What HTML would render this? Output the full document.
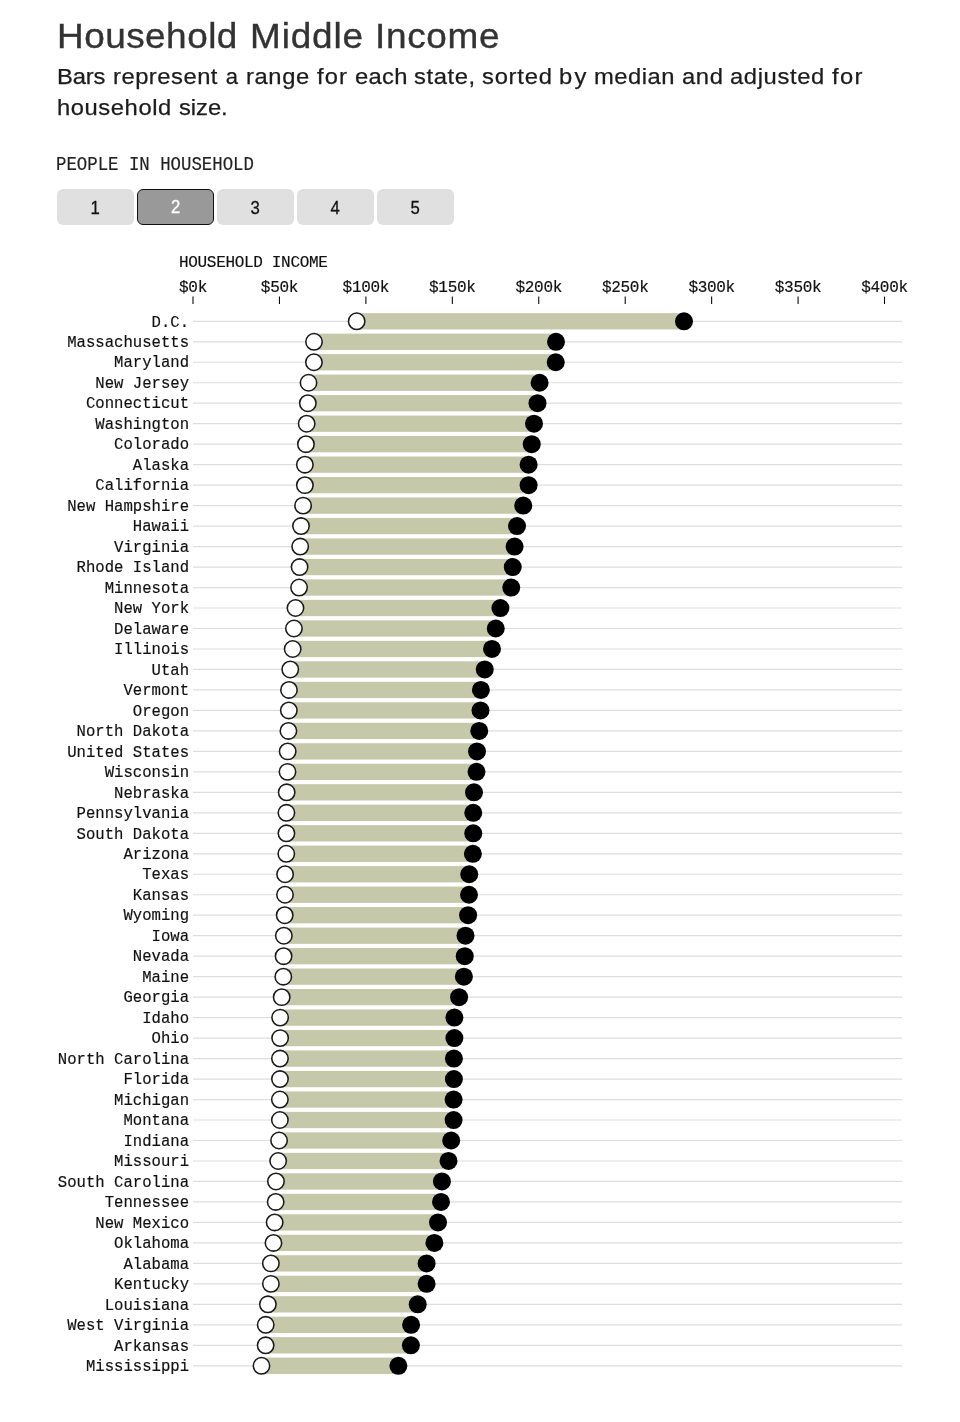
<!DOCTYPE html>
<html><head><meta charset="utf-8"><title>Household Middle Income</title>
<style>
html,body{margin:0;padding:0;background:#fff;}
body{width:960px;height:1422px;position:relative;overflow:hidden;font-family:"Liberation Sans",sans-serif;}
.title{position:absolute;-webkit-text-stroke:0.35px #333;font-size:34.2px;line-height:44px;color:#333;white-space:nowrap;transform-origin:0 0;}
.sub{position:absolute;-webkit-text-stroke:0.25px #1c1c1c;font-size:22px;line-height:30.5px;color:#1c1c1c;white-space:nowrap;transform-origin:0 0;}
.m{font-family:"Liberation Mono",monospace;fill:#111;stroke:#111;stroke-width:0.18px;}
.plabel{position:absolute;left:56px;top:151.7px;-webkit-text-stroke:0.18px #222;font-family:"Liberation Mono",monospace;font-size:19.6px;line-height:26px;color:#222;white-space:nowrap;transform-origin:0 50%;transform:scaleX(0.886);}
.btn{position:absolute;top:189px;width:76.5px;height:36px;border-radius:6px;background:#e0e0e0;font-family:"Liberation Sans",sans-serif;font-size:19px;line-height:36px;text-align:center;color:#111;box-sizing:border-box;}
.btn span{display:block;transform:scaleX(0.88);-webkit-text-stroke:0.3px currentColor;position:absolute;left:0;right:0;top:0.6px;height:36px;line-height:36px;}
.btn.sel{background:#999;color:#fff;border:1.3px solid #111;}
.btn.sel span{left:-1.3px;right:-1.3px;top:-0.7px;}
.axt{font-size:16px;letter-spacing:-0.32px;}
.tick{font-size:16px;letter-spacing:-0.3px;}
.lab{font-size:17px;}
#wrap{position:absolute;left:0;top:0;width:960px;height:1422px;will-change:transform;}
</style></head><body><div id="wrap">
<span class="title" style="left:57.25px;top:14.2px;letter-spacing:0.443px;transform:scaleX(1.080)">Household</span>
<span class="title" style="left:250.00px;top:14.2px;letter-spacing:0.808px;transform:scaleX(1.080)">Middle</span>
<span class="title" style="left:375.03px;top:14.2px;letter-spacing:0.634px;transform:scaleX(1.080)">Income</span>
<span class="sub" style="left:57.09px;top:62.4px;letter-spacing:-0.168px;transform:scaleX(1.080)">Bars</span>
<span class="sub" style="left:112.93px;top:62.4px;letter-spacing:0.473px;transform:scaleX(1.080)">represent</span>
<span class="sub" style="left:225.84px;top:62.4px;letter-spacing:0.000px;transform:scaleX(1.000)">a</span>
<span class="sub" style="left:246.18px;top:62.4px;letter-spacing:0.573px;transform:scaleX(1.080)">range</span>
<span class="sub" style="left:317.44px;top:62.4px;letter-spacing:0.958px;transform:scaleX(1.080)">for</span>
<span class="sub" style="left:354.74px;top:62.4px;letter-spacing:0.308px;transform:scaleX(1.080)">each</span>
<span class="sub" style="left:414.15px;top:62.4px;letter-spacing:0.571px;transform:scaleX(1.080)">state,</span>
<span class="sub" style="left:481.65px;top:62.4px;letter-spacing:0.706px;transform:scaleX(1.080)">sorted</span>
<span class="sub" style="left:559.22px;top:62.4px;letter-spacing:2.027px;transform:scaleX(1.080)">by</span>
<span class="sub" style="left:593.87px;top:62.4px;letter-spacing:0.458px;transform:scaleX(1.080)">median</span>
<span class="sub" style="left:681.94px;top:62.4px;letter-spacing:0.561px;transform:scaleX(1.080)">and</span>
<span class="sub" style="left:729.74px;top:62.4px;letter-spacing:0.590px;transform:scaleX(1.080)">adjusted</span>
<span class="sub" style="left:832.34px;top:62.4px;letter-spacing:1.212px;transform:scaleX(1.080)">for</span>
<span class="sub" style="left:57.39px;top:92.9px;letter-spacing:0.530px;transform:scaleX(1.080)">household</span>
<span class="sub" style="left:179.40px;top:92.9px;letter-spacing:-0.047px;transform:scaleX(1.080)">size.</span>
<div class="plabel">PEOPLE IN HOUSEHOLD</div>
<div class="btn" style="left:57px"><span>1</span></div>
<div class="btn sel" style="left:137px"><span>2</span></div>
<div class="btn" style="left:217px"><span>3</span></div>
<div class="btn" style="left:297px"><span>4</span></div>
<div class="btn" style="left:377px"><span>5</span></div>
<svg width="960" height="1422" viewBox="0 0 960 1422" style="position:absolute;left:0;top:0">
<text class="m axt" x="179" y="267.2">HOUSEHOLD INCOME</text>
<text class="m tick" x="193.00" y="292.2" text-anchor="middle">$0k</text>
<line x1="193.00" x2="193.00" y1="296.6" y2="304" stroke="#000" stroke-width="1.05"/>
<text class="m tick" x="279.44" y="292.2" text-anchor="middle">$50k</text>
<line x1="279.44" x2="279.44" y1="296.6" y2="304" stroke="#000" stroke-width="1.05"/>
<text class="m tick" x="365.88" y="292.2" text-anchor="middle">$100k</text>
<line x1="365.88" x2="365.88" y1="296.6" y2="304" stroke="#000" stroke-width="1.05"/>
<text class="m tick" x="452.32" y="292.2" text-anchor="middle">$150k</text>
<line x1="452.32" x2="452.32" y1="296.6" y2="304" stroke="#000" stroke-width="1.05"/>
<text class="m tick" x="538.76" y="292.2" text-anchor="middle">$200k</text>
<line x1="538.76" x2="538.76" y1="296.6" y2="304" stroke="#000" stroke-width="1.05"/>
<text class="m tick" x="625.20" y="292.2" text-anchor="middle">$250k</text>
<line x1="625.20" x2="625.20" y1="296.6" y2="304" stroke="#000" stroke-width="1.05"/>
<text class="m tick" x="711.64" y="292.2" text-anchor="middle">$300k</text>
<line x1="711.64" x2="711.64" y1="296.6" y2="304" stroke="#000" stroke-width="1.05"/>
<text class="m tick" x="798.08" y="292.2" text-anchor="middle">$350k</text>
<line x1="798.08" x2="798.08" y1="296.6" y2="304" stroke="#000" stroke-width="1.05"/>
<text class="m tick" x="884.52" y="292.2" text-anchor="middle">$400k</text>
<line x1="884.52" x2="884.52" y1="296.6" y2="304" stroke="#000" stroke-width="1.05"/>
<line x1="193.0" x2="902" y1="321.30" y2="321.30" stroke="#dedede" stroke-width="1.2"/>
<rect x="356.67" y="313.15" width="327.33" height="16.3" fill="#c5c9a9"/>
<circle cx="356.67" cy="321.30" r="8.2" fill="#fff" stroke="#1a1a1a" stroke-width="1.55"/>
<circle cx="684.00" cy="321.30" r="9" fill="#000"/>
<text class="m lab" transform="translate(189.1,326.50) scale(0.9196,1)" text-anchor="end">D.C.</text>
<line x1="193.0" x2="902" y1="341.78" y2="341.78" stroke="#dedede" stroke-width="1.2"/>
<rect x="314.00" y="333.63" width="242.00" height="16.3" fill="#c5c9a9"/>
<circle cx="314.00" cy="341.78" r="8.2" fill="#fff" stroke="#1a1a1a" stroke-width="1.55"/>
<circle cx="556.00" cy="341.78" r="9" fill="#000"/>
<text class="m lab" transform="translate(189.1,346.98) scale(0.9196,1)" text-anchor="end">Massachusetts</text>
<line x1="193.0" x2="902" y1="362.26" y2="362.26" stroke="#dedede" stroke-width="1.2"/>
<rect x="313.92" y="354.11" width="241.83" height="16.3" fill="#c5c9a9"/>
<circle cx="313.92" cy="362.26" r="8.2" fill="#fff" stroke="#1a1a1a" stroke-width="1.55"/>
<circle cx="555.75" cy="362.26" r="9" fill="#000"/>
<text class="m lab" transform="translate(189.1,367.46) scale(0.9196,1)" text-anchor="end">Maryland</text>
<line x1="193.0" x2="902" y1="382.74" y2="382.74" stroke="#dedede" stroke-width="1.2"/>
<rect x="308.53" y="374.59" width="231.07" height="16.3" fill="#c5c9a9"/>
<circle cx="308.53" cy="382.74" r="8.2" fill="#fff" stroke="#1a1a1a" stroke-width="1.55"/>
<circle cx="539.60" cy="382.74" r="9" fill="#000"/>
<text class="m lab" transform="translate(189.1,387.94) scale(0.9196,1)" text-anchor="end">New Jersey</text>
<line x1="193.0" x2="902" y1="403.22" y2="403.22" stroke="#dedede" stroke-width="1.2"/>
<rect x="307.83" y="395.07" width="229.67" height="16.3" fill="#c5c9a9"/>
<circle cx="307.83" cy="403.22" r="8.2" fill="#fff" stroke="#1a1a1a" stroke-width="1.55"/>
<circle cx="537.50" cy="403.22" r="9" fill="#000"/>
<text class="m lab" transform="translate(189.1,408.42) scale(0.9196,1)" text-anchor="end">Connecticut</text>
<line x1="193.0" x2="902" y1="423.70" y2="423.70" stroke="#dedede" stroke-width="1.2"/>
<rect x="306.67" y="415.55" width="227.33" height="16.3" fill="#c5c9a9"/>
<circle cx="306.67" cy="423.70" r="8.2" fill="#fff" stroke="#1a1a1a" stroke-width="1.55"/>
<circle cx="534.00" cy="423.70" r="9" fill="#000"/>
<text class="m lab" transform="translate(189.1,428.90) scale(0.9196,1)" text-anchor="end">Washington</text>
<line x1="193.0" x2="902" y1="444.18" y2="444.18" stroke="#dedede" stroke-width="1.2"/>
<rect x="305.92" y="436.03" width="225.83" height="16.3" fill="#c5c9a9"/>
<circle cx="305.92" cy="444.18" r="8.2" fill="#fff" stroke="#1a1a1a" stroke-width="1.55"/>
<circle cx="531.75" cy="444.18" r="9" fill="#000"/>
<text class="m lab" transform="translate(189.1,449.38) scale(0.9196,1)" text-anchor="end">Colorado</text>
<line x1="193.0" x2="902" y1="464.66" y2="464.66" stroke="#dedede" stroke-width="1.2"/>
<rect x="304.87" y="456.51" width="223.73" height="16.3" fill="#c5c9a9"/>
<circle cx="304.87" cy="464.66" r="8.2" fill="#fff" stroke="#1a1a1a" stroke-width="1.55"/>
<circle cx="528.60" cy="464.66" r="9" fill="#000"/>
<text class="m lab" transform="translate(189.1,469.86) scale(0.9196,1)" text-anchor="end">Alaska</text>
<line x1="193.0" x2="902" y1="485.14" y2="485.14" stroke="#dedede" stroke-width="1.2"/>
<rect x="304.87" y="476.99" width="223.73" height="16.3" fill="#c5c9a9"/>
<circle cx="304.87" cy="485.14" r="8.2" fill="#fff" stroke="#1a1a1a" stroke-width="1.55"/>
<circle cx="528.60" cy="485.14" r="9" fill="#000"/>
<text class="m lab" transform="translate(189.1,490.34) scale(0.9196,1)" text-anchor="end">California</text>
<line x1="193.0" x2="902" y1="505.62" y2="505.62" stroke="#dedede" stroke-width="1.2"/>
<rect x="303.08" y="497.47" width="220.17" height="16.3" fill="#c5c9a9"/>
<circle cx="303.08" cy="505.62" r="8.2" fill="#fff" stroke="#1a1a1a" stroke-width="1.55"/>
<circle cx="523.25" cy="505.62" r="9" fill="#000"/>
<text class="m lab" transform="translate(189.1,510.82) scale(0.9196,1)" text-anchor="end">New Hampshire</text>
<line x1="193.0" x2="902" y1="526.10" y2="526.10" stroke="#dedede" stroke-width="1.2"/>
<rect x="301.00" y="517.95" width="216.00" height="16.3" fill="#c5c9a9"/>
<circle cx="301.00" cy="526.10" r="8.2" fill="#fff" stroke="#1a1a1a" stroke-width="1.55"/>
<circle cx="517.00" cy="526.10" r="9" fill="#000"/>
<text class="m lab" transform="translate(189.1,531.30) scale(0.9196,1)" text-anchor="end">Hawaii</text>
<line x1="193.0" x2="902" y1="546.58" y2="546.58" stroke="#dedede" stroke-width="1.2"/>
<rect x="300.20" y="538.43" width="214.40" height="16.3" fill="#c5c9a9"/>
<circle cx="300.20" cy="546.58" r="8.2" fill="#fff" stroke="#1a1a1a" stroke-width="1.55"/>
<circle cx="514.60" cy="546.58" r="9" fill="#000"/>
<text class="m lab" transform="translate(189.1,551.78) scale(0.9196,1)" text-anchor="end">Virginia</text>
<line x1="193.0" x2="902" y1="567.06" y2="567.06" stroke="#dedede" stroke-width="1.2"/>
<rect x="299.58" y="558.91" width="213.17" height="16.3" fill="#c5c9a9"/>
<circle cx="299.58" cy="567.06" r="8.2" fill="#fff" stroke="#1a1a1a" stroke-width="1.55"/>
<circle cx="512.75" cy="567.06" r="9" fill="#000"/>
<text class="m lab" transform="translate(189.1,572.26) scale(0.9196,1)" text-anchor="end">Rhode Island</text>
<line x1="193.0" x2="902" y1="587.54" y2="587.54" stroke="#dedede" stroke-width="1.2"/>
<rect x="299.08" y="579.39" width="212.17" height="16.3" fill="#c5c9a9"/>
<circle cx="299.08" cy="587.54" r="8.2" fill="#fff" stroke="#1a1a1a" stroke-width="1.55"/>
<circle cx="511.25" cy="587.54" r="9" fill="#000"/>
<text class="m lab" transform="translate(189.1,592.74) scale(0.9196,1)" text-anchor="end">Minnesota</text>
<line x1="193.0" x2="902" y1="608.02" y2="608.02" stroke="#dedede" stroke-width="1.2"/>
<rect x="295.47" y="599.87" width="204.93" height="16.3" fill="#c5c9a9"/>
<circle cx="295.47" cy="608.02" r="8.2" fill="#fff" stroke="#1a1a1a" stroke-width="1.55"/>
<circle cx="500.40" cy="608.02" r="9" fill="#000"/>
<text class="m lab" transform="translate(189.1,613.22) scale(0.9196,1)" text-anchor="end">New York</text>
<line x1="193.0" x2="902" y1="628.50" y2="628.50" stroke="#dedede" stroke-width="1.2"/>
<rect x="293.92" y="620.35" width="201.83" height="16.3" fill="#c5c9a9"/>
<circle cx="293.92" cy="628.50" r="8.2" fill="#fff" stroke="#1a1a1a" stroke-width="1.55"/>
<circle cx="495.75" cy="628.50" r="9" fill="#000"/>
<text class="m lab" transform="translate(189.1,633.70) scale(0.9196,1)" text-anchor="end">Delaware</text>
<line x1="193.0" x2="902" y1="648.98" y2="648.98" stroke="#dedede" stroke-width="1.2"/>
<rect x="292.67" y="640.83" width="199.33" height="16.3" fill="#c5c9a9"/>
<circle cx="292.67" cy="648.98" r="8.2" fill="#fff" stroke="#1a1a1a" stroke-width="1.55"/>
<circle cx="492.00" cy="648.98" r="9" fill="#000"/>
<text class="m lab" transform="translate(189.1,654.18) scale(0.9196,1)" text-anchor="end">Illinois</text>
<line x1="193.0" x2="902" y1="669.46" y2="669.46" stroke="#dedede" stroke-width="1.2"/>
<rect x="290.25" y="661.31" width="194.50" height="16.3" fill="#c5c9a9"/>
<circle cx="290.25" cy="669.46" r="8.2" fill="#fff" stroke="#1a1a1a" stroke-width="1.55"/>
<circle cx="484.75" cy="669.46" r="9" fill="#000"/>
<text class="m lab" transform="translate(189.1,674.66) scale(0.9196,1)" text-anchor="end">Utah</text>
<line x1="193.0" x2="902" y1="689.94" y2="689.94" stroke="#dedede" stroke-width="1.2"/>
<rect x="288.97" y="681.79" width="191.93" height="16.3" fill="#c5c9a9"/>
<circle cx="288.97" cy="689.94" r="8.2" fill="#fff" stroke="#1a1a1a" stroke-width="1.55"/>
<circle cx="480.90" cy="689.94" r="9" fill="#000"/>
<text class="m lab" transform="translate(189.1,695.14) scale(0.9196,1)" text-anchor="end">Vermont</text>
<line x1="193.0" x2="902" y1="710.42" y2="710.42" stroke="#dedede" stroke-width="1.2"/>
<rect x="288.83" y="702.27" width="191.67" height="16.3" fill="#c5c9a9"/>
<circle cx="288.83" cy="710.42" r="8.2" fill="#fff" stroke="#1a1a1a" stroke-width="1.55"/>
<circle cx="480.50" cy="710.42" r="9" fill="#000"/>
<text class="m lab" transform="translate(189.1,715.62) scale(0.9196,1)" text-anchor="end">Oregon</text>
<line x1="193.0" x2="902" y1="730.90" y2="730.90" stroke="#dedede" stroke-width="1.2"/>
<rect x="288.42" y="722.75" width="190.83" height="16.3" fill="#c5c9a9"/>
<circle cx="288.42" cy="730.90" r="8.2" fill="#fff" stroke="#1a1a1a" stroke-width="1.55"/>
<circle cx="479.25" cy="730.90" r="9" fill="#000"/>
<text class="m lab" transform="translate(189.1,736.10) scale(0.9196,1)" text-anchor="end">North Dakota</text>
<line x1="193.0" x2="902" y1="751.38" y2="751.38" stroke="#dedede" stroke-width="1.2"/>
<rect x="287.67" y="743.23" width="189.33" height="16.3" fill="#c5c9a9"/>
<circle cx="287.67" cy="751.38" r="8.2" fill="#fff" stroke="#1a1a1a" stroke-width="1.55"/>
<circle cx="477.00" cy="751.38" r="9" fill="#000"/>
<text class="m lab" transform="translate(189.1,756.58) scale(0.9196,1)" text-anchor="end">United States</text>
<line x1="193.0" x2="902" y1="771.86" y2="771.86" stroke="#dedede" stroke-width="1.2"/>
<rect x="287.50" y="763.71" width="189.00" height="16.3" fill="#c5c9a9"/>
<circle cx="287.50" cy="771.86" r="8.2" fill="#fff" stroke="#1a1a1a" stroke-width="1.55"/>
<circle cx="476.50" cy="771.86" r="9" fill="#000"/>
<text class="m lab" transform="translate(189.1,777.06) scale(0.9196,1)" text-anchor="end">Wisconsin</text>
<line x1="193.0" x2="902" y1="792.34" y2="792.34" stroke="#dedede" stroke-width="1.2"/>
<rect x="286.67" y="784.19" width="187.33" height="16.3" fill="#c5c9a9"/>
<circle cx="286.67" cy="792.34" r="8.2" fill="#fff" stroke="#1a1a1a" stroke-width="1.55"/>
<circle cx="474.00" cy="792.34" r="9" fill="#000"/>
<text class="m lab" transform="translate(189.1,797.54) scale(0.9196,1)" text-anchor="end">Nebraska</text>
<line x1="193.0" x2="902" y1="812.82" y2="812.82" stroke="#dedede" stroke-width="1.2"/>
<rect x="286.42" y="804.67" width="186.83" height="16.3" fill="#c5c9a9"/>
<circle cx="286.42" cy="812.82" r="8.2" fill="#fff" stroke="#1a1a1a" stroke-width="1.55"/>
<circle cx="473.25" cy="812.82" r="9" fill="#000"/>
<text class="m lab" transform="translate(189.1,818.02) scale(0.9196,1)" text-anchor="end">Pennsylvania</text>
<line x1="193.0" x2="902" y1="833.30" y2="833.30" stroke="#dedede" stroke-width="1.2"/>
<rect x="286.42" y="825.15" width="186.83" height="16.3" fill="#c5c9a9"/>
<circle cx="286.42" cy="833.30" r="8.2" fill="#fff" stroke="#1a1a1a" stroke-width="1.55"/>
<circle cx="473.25" cy="833.30" r="9" fill="#000"/>
<text class="m lab" transform="translate(189.1,838.50) scale(0.9196,1)" text-anchor="end">South Dakota</text>
<line x1="193.0" x2="902" y1="853.78" y2="853.78" stroke="#dedede" stroke-width="1.2"/>
<rect x="286.30" y="845.63" width="186.60" height="16.3" fill="#c5c9a9"/>
<circle cx="286.30" cy="853.78" r="8.2" fill="#fff" stroke="#1a1a1a" stroke-width="1.55"/>
<circle cx="472.90" cy="853.78" r="9" fill="#000"/>
<text class="m lab" transform="translate(189.1,858.98) scale(0.9196,1)" text-anchor="end">Arizona</text>
<line x1="193.0" x2="902" y1="874.26" y2="874.26" stroke="#dedede" stroke-width="1.2"/>
<rect x="285.08" y="866.11" width="184.17" height="16.3" fill="#c5c9a9"/>
<circle cx="285.08" cy="874.26" r="8.2" fill="#fff" stroke="#1a1a1a" stroke-width="1.55"/>
<circle cx="469.25" cy="874.26" r="9" fill="#000"/>
<text class="m lab" transform="translate(189.1,879.46) scale(0.9196,1)" text-anchor="end">Texas</text>
<line x1="193.0" x2="902" y1="894.74" y2="894.74" stroke="#dedede" stroke-width="1.2"/>
<rect x="285.00" y="886.59" width="184.00" height="16.3" fill="#c5c9a9"/>
<circle cx="285.00" cy="894.74" r="8.2" fill="#fff" stroke="#1a1a1a" stroke-width="1.55"/>
<circle cx="469.00" cy="894.74" r="9" fill="#000"/>
<text class="m lab" transform="translate(189.1,899.94) scale(0.9196,1)" text-anchor="end">Kansas</text>
<line x1="193.0" x2="902" y1="915.22" y2="915.22" stroke="#dedede" stroke-width="1.2"/>
<rect x="284.70" y="907.07" width="183.40" height="16.3" fill="#c5c9a9"/>
<circle cx="284.70" cy="915.22" r="8.2" fill="#fff" stroke="#1a1a1a" stroke-width="1.55"/>
<circle cx="468.10" cy="915.22" r="9" fill="#000"/>
<text class="m lab" transform="translate(189.1,920.42) scale(0.9196,1)" text-anchor="end">Wyoming</text>
<line x1="193.0" x2="902" y1="935.70" y2="935.70" stroke="#dedede" stroke-width="1.2"/>
<rect x="283.83" y="927.55" width="181.67" height="16.3" fill="#c5c9a9"/>
<circle cx="283.83" cy="935.70" r="8.2" fill="#fff" stroke="#1a1a1a" stroke-width="1.55"/>
<circle cx="465.50" cy="935.70" r="9" fill="#000"/>
<text class="m lab" transform="translate(189.1,940.90) scale(0.9196,1)" text-anchor="end">Iowa</text>
<line x1="193.0" x2="902" y1="956.18" y2="956.18" stroke="#dedede" stroke-width="1.2"/>
<rect x="283.58" y="948.03" width="181.17" height="16.3" fill="#c5c9a9"/>
<circle cx="283.58" cy="956.18" r="8.2" fill="#fff" stroke="#1a1a1a" stroke-width="1.55"/>
<circle cx="464.75" cy="956.18" r="9" fill="#000"/>
<text class="m lab" transform="translate(189.1,961.38) scale(0.9196,1)" text-anchor="end">Nevada</text>
<line x1="193.0" x2="902" y1="976.66" y2="976.66" stroke="#dedede" stroke-width="1.2"/>
<rect x="283.30" y="968.51" width="180.60" height="16.3" fill="#c5c9a9"/>
<circle cx="283.30" cy="976.66" r="8.2" fill="#fff" stroke="#1a1a1a" stroke-width="1.55"/>
<circle cx="463.90" cy="976.66" r="9" fill="#000"/>
<text class="m lab" transform="translate(189.1,981.86) scale(0.9196,1)" text-anchor="end">Maine</text>
<line x1="193.0" x2="902" y1="997.14" y2="997.14" stroke="#dedede" stroke-width="1.2"/>
<rect x="281.70" y="988.99" width="177.40" height="16.3" fill="#c5c9a9"/>
<circle cx="281.70" cy="997.14" r="8.2" fill="#fff" stroke="#1a1a1a" stroke-width="1.55"/>
<circle cx="459.10" cy="997.14" r="9" fill="#000"/>
<text class="m lab" transform="translate(189.1,1002.34) scale(0.9196,1)" text-anchor="end">Georgia</text>
<line x1="193.0" x2="902" y1="1017.62" y2="1017.62" stroke="#dedede" stroke-width="1.2"/>
<rect x="280.13" y="1009.47" width="174.27" height="16.3" fill="#c5c9a9"/>
<circle cx="280.13" cy="1017.62" r="8.2" fill="#fff" stroke="#1a1a1a" stroke-width="1.55"/>
<circle cx="454.40" cy="1017.62" r="9" fill="#000"/>
<text class="m lab" transform="translate(189.1,1022.82) scale(0.9196,1)" text-anchor="end">Idaho</text>
<line x1="193.0" x2="902" y1="1038.10" y2="1038.10" stroke="#dedede" stroke-width="1.2"/>
<rect x="280.13" y="1029.95" width="174.27" height="16.3" fill="#c5c9a9"/>
<circle cx="280.13" cy="1038.10" r="8.2" fill="#fff" stroke="#1a1a1a" stroke-width="1.55"/>
<circle cx="454.40" cy="1038.10" r="9" fill="#000"/>
<text class="m lab" transform="translate(189.1,1043.30) scale(0.9196,1)" text-anchor="end">Ohio</text>
<line x1="193.0" x2="902" y1="1058.58" y2="1058.58" stroke="#dedede" stroke-width="1.2"/>
<rect x="279.97" y="1050.43" width="173.93" height="16.3" fill="#c5c9a9"/>
<circle cx="279.97" cy="1058.58" r="8.2" fill="#fff" stroke="#1a1a1a" stroke-width="1.55"/>
<circle cx="453.90" cy="1058.58" r="9" fill="#000"/>
<text class="m lab" transform="translate(189.1,1063.78) scale(0.9196,1)" text-anchor="end">North Carolina</text>
<line x1="193.0" x2="902" y1="1079.06" y2="1079.06" stroke="#dedede" stroke-width="1.2"/>
<rect x="279.97" y="1070.91" width="173.93" height="16.3" fill="#c5c9a9"/>
<circle cx="279.97" cy="1079.06" r="8.2" fill="#fff" stroke="#1a1a1a" stroke-width="1.55"/>
<circle cx="453.90" cy="1079.06" r="9" fill="#000"/>
<text class="m lab" transform="translate(189.1,1084.26) scale(0.9196,1)" text-anchor="end">Florida</text>
<line x1="193.0" x2="902" y1="1099.54" y2="1099.54" stroke="#dedede" stroke-width="1.2"/>
<rect x="279.87" y="1091.39" width="173.73" height="16.3" fill="#c5c9a9"/>
<circle cx="279.87" cy="1099.54" r="8.2" fill="#fff" stroke="#1a1a1a" stroke-width="1.55"/>
<circle cx="453.60" cy="1099.54" r="9" fill="#000"/>
<text class="m lab" transform="translate(189.1,1104.74) scale(0.9196,1)" text-anchor="end">Michigan</text>
<line x1="193.0" x2="902" y1="1120.02" y2="1120.02" stroke="#dedede" stroke-width="1.2"/>
<rect x="279.87" y="1111.87" width="173.73" height="16.3" fill="#c5c9a9"/>
<circle cx="279.87" cy="1120.02" r="8.2" fill="#fff" stroke="#1a1a1a" stroke-width="1.55"/>
<circle cx="453.60" cy="1120.02" r="9" fill="#000"/>
<text class="m lab" transform="translate(189.1,1125.22) scale(0.9196,1)" text-anchor="end">Montana</text>
<line x1="193.0" x2="902" y1="1140.50" y2="1140.50" stroke="#dedede" stroke-width="1.2"/>
<rect x="279.07" y="1132.35" width="172.13" height="16.3" fill="#c5c9a9"/>
<circle cx="279.07" cy="1140.50" r="8.2" fill="#fff" stroke="#1a1a1a" stroke-width="1.55"/>
<circle cx="451.20" cy="1140.50" r="9" fill="#000"/>
<text class="m lab" transform="translate(189.1,1145.70) scale(0.9196,1)" text-anchor="end">Indiana</text>
<line x1="193.0" x2="902" y1="1160.98" y2="1160.98" stroke="#dedede" stroke-width="1.2"/>
<rect x="278.17" y="1152.83" width="170.33" height="16.3" fill="#c5c9a9"/>
<circle cx="278.17" cy="1160.98" r="8.2" fill="#fff" stroke="#1a1a1a" stroke-width="1.55"/>
<circle cx="448.50" cy="1160.98" r="9" fill="#000"/>
<text class="m lab" transform="translate(189.1,1166.18) scale(0.9196,1)" text-anchor="end">Missouri</text>
<line x1="193.0" x2="902" y1="1181.46" y2="1181.46" stroke="#dedede" stroke-width="1.2"/>
<rect x="275.97" y="1173.31" width="165.93" height="16.3" fill="#c5c9a9"/>
<circle cx="275.97" cy="1181.46" r="8.2" fill="#fff" stroke="#1a1a1a" stroke-width="1.55"/>
<circle cx="441.90" cy="1181.46" r="9" fill="#000"/>
<text class="m lab" transform="translate(189.1,1186.66) scale(0.9196,1)" text-anchor="end">South Carolina</text>
<line x1="193.0" x2="902" y1="1201.94" y2="1201.94" stroke="#dedede" stroke-width="1.2"/>
<rect x="275.67" y="1193.79" width="165.33" height="16.3" fill="#c5c9a9"/>
<circle cx="275.67" cy="1201.94" r="8.2" fill="#fff" stroke="#1a1a1a" stroke-width="1.55"/>
<circle cx="441.00" cy="1201.94" r="9" fill="#000"/>
<text class="m lab" transform="translate(189.1,1207.14) scale(0.9196,1)" text-anchor="end">Tennessee</text>
<line x1="193.0" x2="902" y1="1222.42" y2="1222.42" stroke="#dedede" stroke-width="1.2"/>
<rect x="274.67" y="1214.27" width="163.33" height="16.3" fill="#c5c9a9"/>
<circle cx="274.67" cy="1222.42" r="8.2" fill="#fff" stroke="#1a1a1a" stroke-width="1.55"/>
<circle cx="438.00" cy="1222.42" r="9" fill="#000"/>
<text class="m lab" transform="translate(189.1,1227.62) scale(0.9196,1)" text-anchor="end">New Mexico</text>
<line x1="193.0" x2="902" y1="1242.90" y2="1242.90" stroke="#dedede" stroke-width="1.2"/>
<rect x="273.47" y="1234.75" width="160.93" height="16.3" fill="#c5c9a9"/>
<circle cx="273.47" cy="1242.90" r="8.2" fill="#fff" stroke="#1a1a1a" stroke-width="1.55"/>
<circle cx="434.40" cy="1242.90" r="9" fill="#000"/>
<text class="m lab" transform="translate(189.1,1248.10) scale(0.9196,1)" text-anchor="end">Oklahoma</text>
<line x1="193.0" x2="902" y1="1263.38" y2="1263.38" stroke="#dedede" stroke-width="1.2"/>
<rect x="270.87" y="1255.23" width="155.73" height="16.3" fill="#c5c9a9"/>
<circle cx="270.87" cy="1263.38" r="8.2" fill="#fff" stroke="#1a1a1a" stroke-width="1.55"/>
<circle cx="426.60" cy="1263.38" r="9" fill="#000"/>
<text class="m lab" transform="translate(189.1,1268.58) scale(0.9196,1)" text-anchor="end">Alabama</text>
<line x1="193.0" x2="902" y1="1283.86" y2="1283.86" stroke="#dedede" stroke-width="1.2"/>
<rect x="270.87" y="1275.71" width="155.73" height="16.3" fill="#c5c9a9"/>
<circle cx="270.87" cy="1283.86" r="8.2" fill="#fff" stroke="#1a1a1a" stroke-width="1.55"/>
<circle cx="426.60" cy="1283.86" r="9" fill="#000"/>
<text class="m lab" transform="translate(189.1,1289.06) scale(0.9196,1)" text-anchor="end">Kentucky</text>
<line x1="193.0" x2="902" y1="1304.34" y2="1304.34" stroke="#dedede" stroke-width="1.2"/>
<rect x="267.90" y="1296.19" width="149.80" height="16.3" fill="#c5c9a9"/>
<circle cx="267.90" cy="1304.34" r="8.2" fill="#fff" stroke="#1a1a1a" stroke-width="1.55"/>
<circle cx="417.70" cy="1304.34" r="9" fill="#000"/>
<text class="m lab" transform="translate(189.1,1309.54) scale(0.9196,1)" text-anchor="end">Louisiana</text>
<line x1="193.0" x2="902" y1="1324.82" y2="1324.82" stroke="#dedede" stroke-width="1.2"/>
<rect x="265.70" y="1316.67" width="145.40" height="16.3" fill="#c5c9a9"/>
<circle cx="265.70" cy="1324.82" r="8.2" fill="#fff" stroke="#1a1a1a" stroke-width="1.55"/>
<circle cx="411.10" cy="1324.82" r="9" fill="#000"/>
<text class="m lab" transform="translate(189.1,1330.02) scale(0.9196,1)" text-anchor="end">West Virginia</text>
<line x1="193.0" x2="902" y1="1345.30" y2="1345.30" stroke="#dedede" stroke-width="1.2"/>
<rect x="265.63" y="1337.15" width="145.27" height="16.3" fill="#c5c9a9"/>
<circle cx="265.63" cy="1345.30" r="8.2" fill="#fff" stroke="#1a1a1a" stroke-width="1.55"/>
<circle cx="410.90" cy="1345.30" r="9" fill="#000"/>
<text class="m lab" transform="translate(189.1,1350.50) scale(0.9196,1)" text-anchor="end">Arkansas</text>
<line x1="193.0" x2="902" y1="1365.78" y2="1365.78" stroke="#dedede" stroke-width="1.2"/>
<rect x="261.47" y="1357.63" width="136.93" height="16.3" fill="#c5c9a9"/>
<circle cx="261.47" cy="1365.78" r="8.2" fill="#fff" stroke="#1a1a1a" stroke-width="1.55"/>
<circle cx="398.40" cy="1365.78" r="9" fill="#000"/>
<text class="m lab" transform="translate(189.1,1370.98) scale(0.9196,1)" text-anchor="end">Mississippi</text>
</svg>
</div></body></html>
